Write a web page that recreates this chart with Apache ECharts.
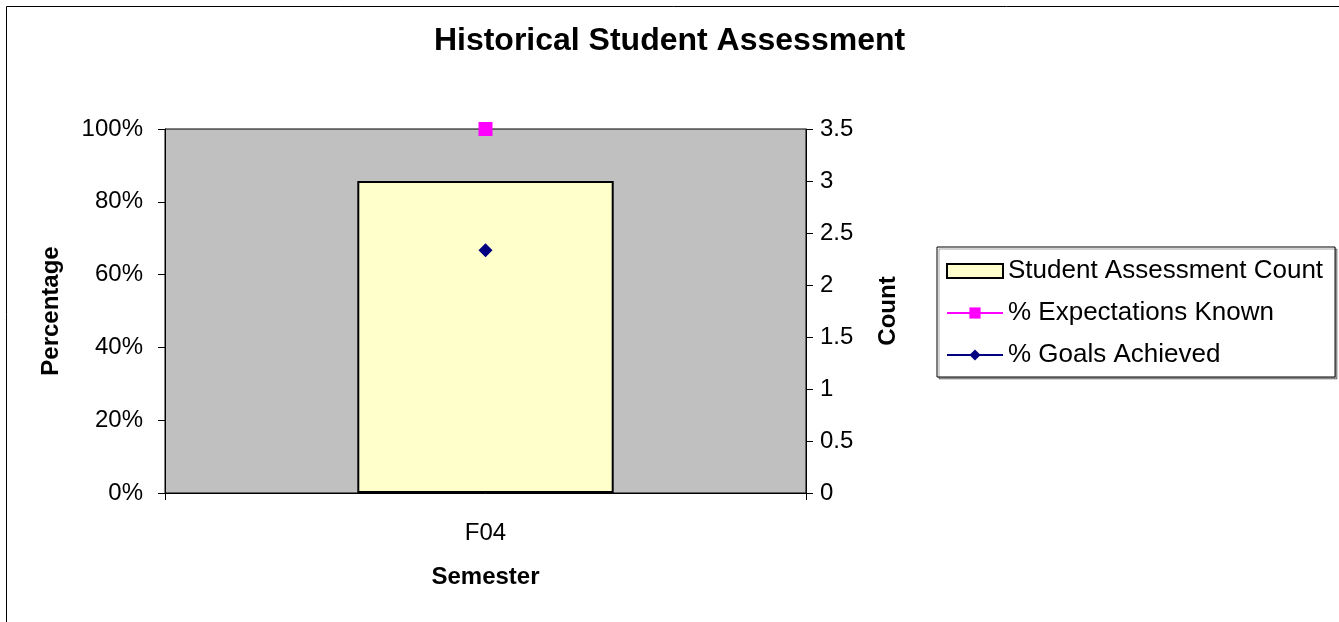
<!DOCTYPE html>
<html>
<head>
<meta charset="utf-8">
<script src="https://cdn.jsdelivr.net/npm/echarts@6/dist/echarts.min.js"></script>
<style>
html,body{margin:0;padding:0;background:#fff;}
#c{width:1339px;height:622px;}
</style>
</head>
<body>
<div id="c"></div>
<script>
const categories = ['F04'];
const assessmentCount = [3];
const expectationsKnown = [1.0];
const goalsAchieved = [0.667];
const pctTicks = { min: 0, max: 1, interval: 0.2 };
const countTicks = { min: 0, max: 3.5, interval: 0.5 };

const FONT = '"Liberation Sans", Arial, sans-serif';
const chart = echarts.init(document.getElementById('c'));
chart.setOption({
  animation: false,
  backgroundColor: '#fff',
  textStyle: { fontFamily: FONT },
  title: {
    text: 'Historical Student Assessment',
    left: 'center', top: 20,
    textStyle: { fontSize: 32, fontWeight: 'bold', color: '#000', fontFamily: FONT }
  },
  graphic: [{
    type: 'rect', silent: true, z: -1,
    shape: { x: 6.5, y: 6.5, width: 1345, height: 640 },
    style: { fill: 'none', stroke: '#000', lineWidth: 1 }
  }],
  grid: {
    left: 165, right: 533, top: 129, bottom: 129,
    show: true, backgroundColor: '#c0c0c0', borderColor: '#000', borderWidth: 1
  },
  legend: {
    orient: 'vertical', left: 937, top: 247,
    padding: [11, 12, 9, 9],
    itemGap: 16,
    itemWidth: 56, itemHeight: 14,
    borderColor: '#000', borderWidth: 1,
    backgroundColor: '#fff',
    shadowColor: 'rgba(0,0,0,0.35)', shadowOffsetX: 2, shadowOffsetY: 2, shadowBlur: 0,
    textStyle: { fontSize: 26, lineHeight: 26, color: '#000', fontFamily: FONT },
    data: [
      { name: 'Student Assessment Count', icon: 'rect' },
      { name: '% Expectations Known' },
      { name: '% Goals Achieved' }
    ]
  },
  xAxis: {
    type: 'category', data: categories,
    name: 'Semester', nameLocation: 'middle', nameGap: 72,
    nameTextStyle: { fontSize: 24, fontWeight: 'bold', color: '#000', fontFamily: FONT },
    axisLine: { lineStyle: { color: '#000', width: 1 } },
    axisTick: { show: true, length: 7, lineStyle: { color: '#000' } },
    axisLabel: { fontSize: 24, color: '#000', margin: 28, fontFamily: FONT }
  },
  yAxis: [{
    type: 'value', min: pctTicks.min, max: pctTicks.max, interval: pctTicks.interval,
    position: 'left',
    name: 'Percentage', nameLocation: 'middle', nameGap: 102, nameRotate: 90,
    nameTextStyle: { fontSize: 24, fontWeight: 'bold', color: '#000', fontFamily: FONT },
    axisLine: { show: true, lineStyle: { color: '#000' } },
    axisTick: { show: true, length: 7, lineStyle: { color: '#000' } },
    splitLine: { show: false },
    axisLabel: { fontSize: 24, color: '#000', margin: 22, fontFamily: FONT,
      formatter: v => Math.round(v * 100) + '%' }
  }, {
    type: 'value', min: countTicks.min, max: countTicks.max, interval: countTicks.interval,
    position: 'right',
    name: 'Count', nameLocation: 'middle', nameGap: 70, nameRotate: 90,
    nameTextStyle: { fontSize: 24, fontWeight: 'bold', color: '#000', fontFamily: FONT },
    axisLine: { show: true, lineStyle: { color: '#000' } },
    axisTick: { show: true, length: 7, lineStyle: { color: '#000' } },
    splitLine: { show: false },
    axisLabel: { fontSize: 24, color: '#000', margin: 14, fontFamily: FONT }
  }],
  series: [{
    name: 'Student Assessment Count', type: 'bar', yAxisIndex: 1,
    data: assessmentCount, barWidth: '40%',
    itemStyle: { color: '#ffffcc', borderColor: '#000', borderWidth: 2 }
  }, {
    name: '% Expectations Known', type: 'line', yAxisIndex: 0,
    data: expectationsKnown, symbol: 'rect', symbolSize: 14, showSymbol: true,
    lineStyle: { color: '#ff00ff', width: 2 },
    itemStyle: { color: '#ff00ff' }, z: 5
  }, {
    name: '% Goals Achieved', type: 'line', yAxisIndex: 0,
    data: goalsAchieved, symbol: 'diamond', symbolSize: 14, showSymbol: true,
    lineStyle: { color: '#000080', width: 2 },
    itemStyle: { color: '#000080' }, z: 5
  }]
});
</script>
</body>
</html>
